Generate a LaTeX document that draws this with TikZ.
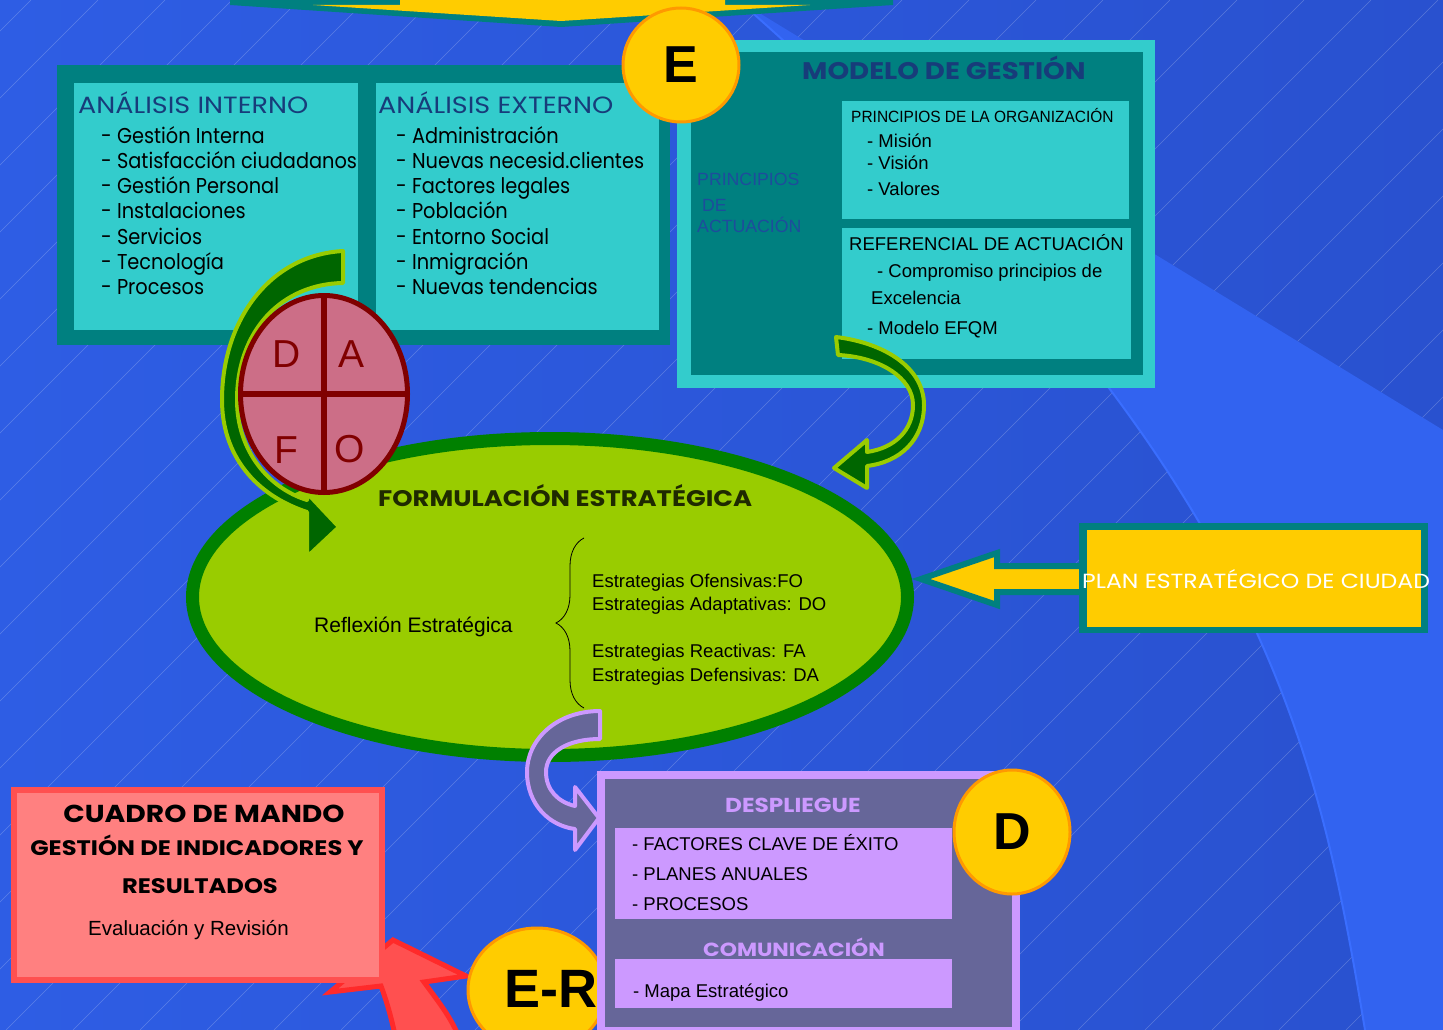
\documentclass[tikz,border=0pt]{standalone}
\usepackage{fontspec}
\usepackage{graphicx}
\setmainfont{Liberation Sans}
\newfontfamily\comic{Poppins}
\newfontfamily\comicwide[FakeStretch=1.15]{Poppins}
\newfontfamily\comicnarrow[FakeStretch=0.9]{Poppins}
\usetikzlibrary{positioning, shapes.geometric, decorations.pathreplacing}

\definecolor{bgleft}{HTML}{2E5DE4}
\definecolor{bgright}{HTML}{2951CF}
\definecolor{beam}{HTML}{3263F0}
\definecolor{beamedge}{HTML}{3A6EFF}
\definecolor{tealdark}{HTML}{008080}
\definecolor{teallight}{HTML}{33CCCC}
\definecolor{navy}{HTML}{173C7A}
\definecolor{inkblue}{HTML}{1E4C9C}
\definecolor{sunyellow}{HTML}{FFCC00}
\definecolor{sunorange}{HTML}{FF9900}
\definecolor{lime}{HTML}{99CC00}
\definecolor{leafgreen}{HTML}{008000}
\definecolor{darkleaf}{HTML}{006600}
\definecolor{olive}{HTML}{1F2A00}
\definecolor{dafopink}{HTML}{CC6E87}
\definecolor{maroon}{HTML}{800000}
\definecolor{slate}{HTML}{666699}
\definecolor{lavender}{HTML}{CC99FF}
\definecolor{salmon}{HTML}{FF8080}
\definecolor{coral}{HTML}{FF5050}
\definecolor{redline}{HTML}{FF2A2A}

\begin{document}
\begin{tikzpicture}[
  x=1pt, y=-1pt,
  hatch/.style={white, opacity=0.22, line width=0.6pt},
  panel/.style={fill=tealdark},
  card/.style={fill=teallight},
  sun/.style={ellipse, fill=sunyellow, draw=sunorange, line width=3pt,
              inner sep=0pt, font=\fontsize{52}{52}\selectfont\bfseries},
  leaf/.style={fill=darkleaf, draw=lime, line width=4pt, line join=round},
  heading/.style={font=\comicwide\fontsize{23.5}{23.5}\selectfont, text=navy,
                  inner sep=0pt, anchor=base west},
  title/.style={font=\comicwide\bfseries\fontsize{22}{22}\selectfont,
                inner sep=0pt, anchor=base west},
  item/.style={font=\comicnarrow\fontsize{21.5}{21.5}\selectfont, inner sep=0pt, anchor=base west},
  plain/.style={font=\fontsize{18.5}{18.5}\selectfont, inner sep=0pt, anchor=base west},
  dafo/.style={font=\fontsize{39}{39}\selectfont, text=maroon, inner sep=0pt}
]
  \useasboundingbox (0,0) rectangle (1443,1030);
  \clip (0,0) rectangle (1443,1030);

  \shade[left color=bgleft, right color=bgright] (0,0) rectangle (1443,1030);
  \foreach \c in {31,98,...,2510}
    \draw[hatch] (\c,0) -- ({\c-1030},1030);
  \fill[beam] (738,0) .. controls (1260,460) and (1315,730) .. (1365,1030)
        -- (1443,1030) -- (1443,430) -- cycle;
  \draw[beamedge, line width=2pt] (738,0) .. controls (1260,460) and (1315,730) .. (1365,1030);

  \fill[tealdark] (230,-2) -- (893,-2) -- (893,5) -- (561,27) -- (230,5) -- cycle;
  \fill[sunyellow] (400,-2) -- (725,-2) -- (725,5) -- (810,5) -- (561,21)
        -- (313,5) -- (400,5) -- cycle;

  \fill[panel] (57,65) rectangle (670,345);
  \fill[card] (74,83) rectangle (358,330);
  \fill[card] (376,83) rectangle (659,330);
  \node[heading] (intHead) at (78,114) {ANÁLISIS INTERNO};
  \node[heading] (extHead) at (378,114) {ANÁLISIS EXTERNO};
  \foreach \txt [count=\i from 0] in {- Gestión Interna, - Satisfacción ciudadanos,
      - Gestión Personal, - Instalaciones, - Servicios, - Tecnología, - Procesos}
    \node[item] (int\i) at (101,{143+25.3*\i}) {\txt};
  \foreach \txt [count=\i from 0] in {- Administración, - Nuevas necesid.clientes,
      - Factores legales, - Población, - Entorno Social, - Inmigración, - Nuevas tendencias}
    \node[item] (ext\i) at (396,{143+25.3*\i}) {\txt};

  \fill[card] (677,40) rectangle (1155,388);
  \fill[panel] (691,52) rectangle (1143,375);
  \fill[card] (842,101) rectangle (1129,219);
  \fill[card] (842,228) rectangle (1131,359);
  \node[title, text=navy, font=\comicwide\bfseries\fontsize{24}{24}\selectfont] (model) at (802,80) {MODELO DE GESTIÓN};
  \node[plain, font=\fontsize{16.3}{16.3}\selectfont] (orgHead) at (851,123)
       {\scalebox{0.95}[1]{PRINCIPIOS DE LA ORGANIZACIÓN}};
  \foreach \txt/\yy [count=\i] in {- Misión/148, - Visión/169, - Valores/195}
    \node[plain] (org\i) at (867,\yy) {\txt};
  \node[plain] (refHead) at (849,250) {REFERENCIAL DE ACTUACIÓN};
  \node[plain] (ref1) at (877,277) {- Compromiso principios de};
  \node[plain] (ref2) at (871,304) {Excelencia};
  \node[plain] (ref3) at (867,334) {- Modelo EFQM};
  \node[plain, text=inkblue, font=\fontsize{17.7}{17.7}\selectfont] (prin1) at (697,185) {PRINCIPIOS};
  \node[plain, text=inkblue, font=\fontsize{17.7}{17.7}\selectfont] (prin2) at (702,211) {DE};
  \node[plain, text=inkblue, font=\fontsize{17.7}{17.7}\selectfont] (prin3) at (697,232) {ACTUACIÓN};

  \node[sun, minimum width=116, minimum height=114] (E) at (681,65) {E};

  \node[ellipse, fill=lime, draw=leafgreen, line width=13pt,
        minimum width=715, minimum height=317, inner sep=0pt] (form) at (550,597) {};
  \node[title, text=olive, font=\comicwide\bfseries\fontsize{22.5}{22.5}\selectfont] (formHead) at (378,506) {FORMULACIÓN ESTRATÉGICA};
  \node[plain, font=\fontsize{21}{21}\selectfont] (reflex) at (314,632) {Reflexión Estratégica};
  \draw[decorate, decoration={brace, amplitude=28pt}, line width=0.8pt]
       (584,708) -- (584,538);
  \foreach \txt/\yy [count=\i] in {Estrategias Ofensivas:FO/587, Estrategias Adaptativas: DO/610,
      Estrategias Reactivas: FA/657, Estrategias Defensivas: DA/681}
    \node[plain] (strat\i) at (592,\yy) {\txt};

  \filldraw[leaf] (343,251) .. controls (270,255) and (222,320) .. (222,400)
        .. controls (222,455) and (255,495) .. (307,512) -- (307,557) -- (339,527)
        -- (307,493) -- (307,500) .. controls (268,488) and (237,450) .. (237,400)
        .. controls (237,330) and (282,284) .. (343,283) -- cycle;

  \node[ellipse, fill=dafopink, draw=maroon, line width=5pt,
        minimum width=167, minimum height=197, inner sep=0pt] (dafoc) at (324,394) {};
  \draw[maroon, line width=6pt] (dafoc.north) -- (dafoc.south);
  \draw[maroon, line width=6pt] (dafoc.west) -- (dafoc.east);
  \node[dafo] (dD) at (287,354) {D};
  \node[dafo] (dA) at (352,354) {A};
  \node[dafo] (dF) at (286,450) {F};
  \node[dafo] (dO) at (350,449) {O};

  \filldraw[leaf] (836,337) .. controls (885,343) and (924,368) .. (924,405)
        .. controls (924,440) and (900,462) .. (867,466) -- (867,488) -- (834,468)
        -- (867,440) -- (867,452) .. controls (895,448) and (913,430) .. (913,405)
        .. controls (913,378) and (880,357) .. (838,355) -- cycle;

  \filldraw[fill=sunyellow, draw=tealdark, line width=6pt, line join=miter]
        (921,579) -- (997,553) -- (997,566) -- (1090,566) -- (1090,592)
        -- (997,592) -- (997,605) -- cycle;
  \fill[tealdark] (1079,523) rectangle (1428,633);
  \fill[sunyellow] (1087,530) rectangle (1421,627);
  \node[heading, text=white, font=\comicwide\fontsize{20.5}{20.5}\selectfont] (plan) at (1082,588) {PLAN ESTRATÉGICO DE CIUDAD};

  \filldraw[fill=coral, draw=redline, line width=5pt, line join=miter]
        (381,986) -- (330,992) -- (393,940) -- (466,976) -- (424,982)
        .. controls (437,1000) and (452,1018) .. (460,1040) -- (396,1040)
        .. controls (392,1020) and (387,1002) .. (381,986) -- cycle;
  \filldraw[fill=salmon, draw=coral, line width=6pt] (14,790) rectangle (382,980);
  \node[title, anchor=base, font=\comicwide\bfseries\fontsize{24.5}{24.5}\selectfont] (mando1) at (204,822) {CUADRO DE MANDO};
  \node[title, anchor=base, font=\comicwide\bfseries\fontsize{21}{21}\selectfont] (mando2) at (197,855) {GESTIÓN DE INDICADORES Y};
  \node[title, anchor=base, font=\comicwide\bfseries\fontsize{21}{21}\selectfont] (mando3) at (200,893) {RESULTADOS};
  \node[plain, font=\fontsize{20.5}{20.5}\selectfont] (evalua) at (88,935) {Evaluación y Revisión};

  \node[sun, minimum width=138, minimum height=124] (ER) at (537,990) {};
  \node[font=\fontsize{54}{54}\selectfont\bfseries, inner sep=0pt, anchor=base] (ERlabel) at (551,1007) {E-R};

  \filldraw[fill=slate, draw=lavender, line width=4pt, line join=round]
        (600,711) .. controls (556,711) and (527,740) .. (527,772)
        .. controls (527,805) and (550,826) .. (575,829) -- (575,850) -- (599,818)
        -- (575,787) -- (575,806) .. controls (558,802) and (546,790) .. (546,772)
        .. controls (546,752) and (568,739) .. (600,739) -- cycle;
  \fill[lavender] (597,771) rectangle (1020,1035);
  \fill[slate] (605,779) rectangle (1012,1027);
  \fill[lavender] (615,828) rectangle (952,919);
  \fill[lavender] (615,959) rectangle (952,1008);
  \node[title, text=lavender, font=\comicwide\bfseries\fontsize{20.2}{20.2}\selectfont] (despl) at (725,812) {DESPLIEGUE};
  \foreach \txt/\yy [count=\i] in {- FACTORES CLAVE DE ÉXITO/850, - PLANES ANUALES/880, - PROCESOS/910}
    \node[plain] (despl\i) at (632,\yy) {\txt};
  \node[title, text=lavender, font=\comicwide\bfseries\fontsize{19}{19}\selectfont] (comun) at (703,956) {COMUNICACIÓN};
  \node[plain] (mapa) at (633,997) {- Mapa Estratégico};

  \node[sun, minimum width=116, minimum height=124] (D) at (1012,832) {D};
\end{tikzpicture}
\end{document}
